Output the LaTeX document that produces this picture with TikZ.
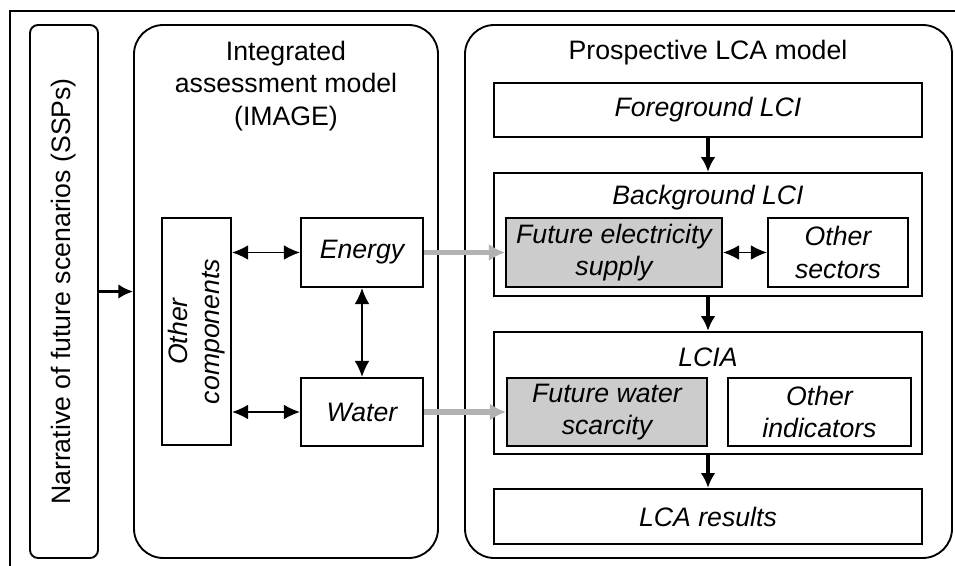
\documentclass[tikz,border=0pt]{standalone}
\usepackage{fontspec}
\setmainfont{Liberation Sans}
\usepackage{tikz}
\usetikzlibrary{arrows.meta}

\definecolor{boxgray}{RGB}{204,204,204}
\definecolor{linkgray}{RGB}{178,178,178}

\tikzset{
  txt/.style={font=\fontsize{20}{24.5}\selectfont, inner sep=0.75pt, align=center},
  box/.style={draw, line width=1.7pt, inner sep=0pt, align=center, font=\fontsize{20}{24.5}\selectfont\itshape},
  panel/.style={draw, line width=1.4pt, inner sep=0pt},
  biarrow/.style={line width=0.9pt, {Latex[length=12pt,width=11pt]}-{Latex[length=12pt,width=11pt]}},
  flowarrow/.style={line width=2.4pt, -{Latex[length=11pt,width=11pt]}},
  feedarrow/.style={line width=4pt, linkgray, -{Latex[length=12pt,width=13pt]}},
}

\begin{document}
\begin{tikzpicture}[x=0.75pt,y=0.75pt,yscale=-1,xscale=1]
\useasboundingbox (0,0) rectangle (955,566);

%Straight Lines: frame
\draw [line width=1.8pt] (955,11) -- (10,11) -- (10,566) ;

%Shape: Rounded panels
\node [panel, rounded corners=6pt, minimum width=51pt, minimum height=399.75pt] (narr) at (64,291.5) {};
\node [panel, rounded corners=22pt, minimum width=228pt, minimum height=399.75pt] (iam) at (286,291.5) {};
\node [panel, rounded corners=22pt, minimum width=365.25pt, minimum height=399.75pt] (lca) at (708.5,291.5) {};

% Text Node
\node [txt, rotate=90] (narrtxt) at (narr) {Narrative of future scenarios (SSPs)};
\node [txt] (iamtxt) at (286,86) {Integrated\\assessment model\\(IMAGE)};
\node [txt] (lcatxt) at (708,53) {Prospective LCA model};

%Shape: IAM boxes
\node [box, minimum width=51.75pt, minimum height=170.25pt] (oth) at (196.5,331.5) {};
\node [txt, font=\fontsize{20}{24.5}\selectfont\itshape, rotate=90] (othtxt) at (oth) {Other\\components};
\node [box, minimum width=91.5pt, minimum height=51.75pt] (energy) at (362,252.5) {Energy};
\node [box, minimum width=91.5pt, minimum height=51pt] (water) at (362,412) {Water};

%Shape: LCA boxes
\node [box, minimum width=321pt, minimum height=40.5pt] (fg) at (708,110) {Foreground LCI};
\node [box, minimum width=321pt, minimum height=92.25pt] (bg) at (708,234.5) {};
\node [txt, font=\fontsize{20}{24.5}\selectfont\itshape] (bgtxt) at (708,198) {Background LCI};
\node [box, fill=boxgray, minimum width=162pt, minimum height=51.75pt] (elec) at (614,252.5) {Future electricity\\supply};
\node [box, minimum width=105pt, minimum height=51.75pt] (sect) at (838,252.5) {Other\\sectors};
\node [box, minimum width=321pt, minimum height=91.5pt] (lcia) at (708,393) {};
\node [txt, font=\fontsize{20}{24.5}\selectfont\itshape] (lciatxt) at (708,357) {LCIA};
\node [box, fill=boxgray, minimum width=150pt, minimum height=51pt] (wsc) at (607,412) {Future water\\scarcity};
\node [box, minimum width=137.25pt, minimum height=51pt] (ind) at (819.5,412) {Other\\indicators};
\node [box, minimum width=321pt, minimum height=41.25pt] (res) at (708,516.5) {LCA results};

%Straight Lines: arrows
\draw [flowarrow] (narr) -- (iam) ;
\draw [biarrow] (oth.east |- energy.west) -- (energy.west) ;
\draw [biarrow] (oth.east |- water.west) -- (water.west) ;
\draw [biarrow] (energy) -- (water) ;
\draw [feedarrow] (energy.east) -- (elec.west) ;
\draw [feedarrow] (water.east) -- (wsc.west) ;
\draw [biarrow] (elec) -- (sect) ;
\draw [flowarrow] (fg) -- (bg) ;
\draw [flowarrow] (bg) -- (lcia) ;
\draw [flowarrow] (lcia) -- (res) ;

\end{tikzpicture}
\end{document}
